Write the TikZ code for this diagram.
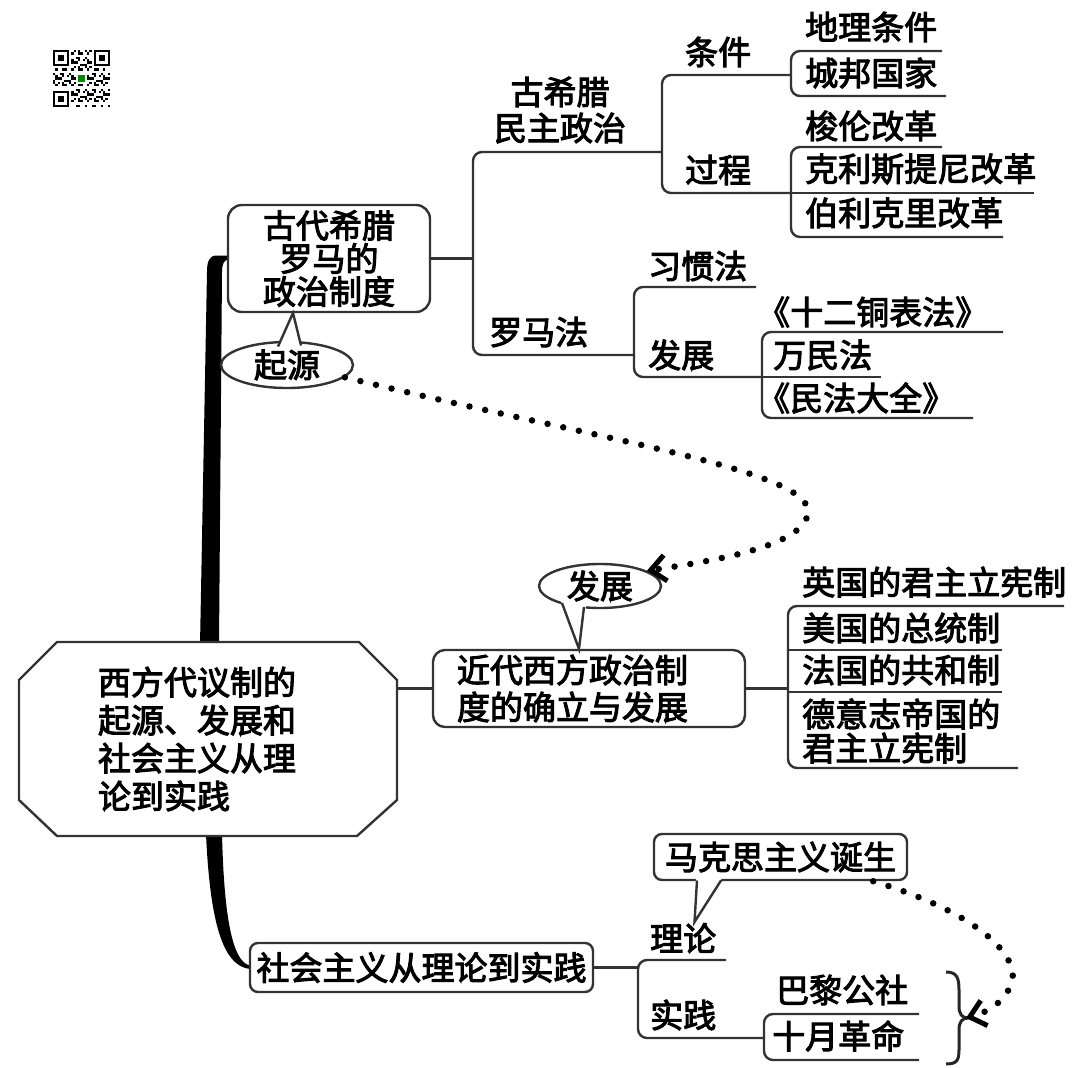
\documentclass[tikz,border=0pt]{standalone}
\usepackage{fontspec}
\newfontfamily\cjk[FakeBold=3]{Noto Sans CJK SC}
\usetikzlibrary{arrows.meta,shapes.geometric}
\newcommand\myfs{\fontsize{33}{36}\selectfont}
\begin{document}
\begin{tikzpicture}[x=1pt,y=-1pt,
  ln/.style={draw=black!80,line width=2.4pt,rounded corners=9pt},
  lbl/.style={font=\cjk\myfs,inner sep=0pt,anchor=west,text=black},
  rbox/.style={draw=black!80,line width=2.4pt,rounded corners=14pt,fill=white,inner sep=0pt,font=\cjk\myfs,text=black},
  bubble/.style={draw=black!80,line width=2.4pt,fill=white,ellipse,inner sep=0pt,font=\cjk\myfs,text=black},
  dotline/.style={draw=black,line width=6.5pt,line cap=round,dash pattern=on 0pt off 16pt},
  tipA/.style={-{Straight Barb[length=15pt,width=26pt,line width=5pt]}},
  tail/.style={draw=black!80,line width=2.4pt},
]
\useasboundingbox (0,0) rectangle (1080,1068);
\fill[white] (0,0) rectangle (1080,1068);

% ---- QR code ----
\begin{scope}[shift={(53,50)},x=2.28pt,y=-2.28pt]
  \foreach \i in {0,...,24}{\foreach \j in {0,...,24}{
    \pgfmathtruncatemacro\qv{mod(\i*\i*7+\j*\j*3+\i*\j*5+\i*11+\j*17,7)}
    \ifnum\qv<3 \fill[black] (\i,\j) rectangle ++(1,1);\fi
  }}
  \foreach \a/\b/\wa/\wb in {0/0/0/0,18/0/17/0,0/18/0/17}{
    \fill[white] (\wa,\wb) rectangle ++(8,8);
    \fill[black] (\a,\b) rectangle ++(7,7);
    \fill[white] (\a+1,\b+1) rectangle ++(5,5);
    \fill[black] (\a+2,\b+2) rectangle ++(3,3);
  }
  \fill[white] (10.3,10.3) rectangle (14.7,14.7);
  \fill[green!55!black] (10.8,10.8) rectangle (14.2,14.2);
\end{scope}

% ---- thick spine ----
\fill[black] (229,255.5) -- (216,255.5) .. controls (209,256) and (207,262) .. (207,272)
  -- (200,645) -- (219,645) -- (222,272) .. controls (222,264) and (224,259.5) .. (229,259.5) -- cycle;
\fill[black] (206,834) .. controls (210,920) and (222,966) .. (250,969)
  -- (250,965.5) .. controls (232,962) and (224,915) .. (222,834) -- cycle;

% ---- root octagon ----
\draw[draw=black!80,line width=2.4pt,fill=white] (57,642) -- (359,642) -- (397,680) -- (397,800)
  -- (357,836) -- (57,836) -- (19,800) -- (19,680) -- cycle;
\node[inner sep=0pt,minimum width=378pt,minimum height=194pt,text width=220pt,align=left,
  font={\cjk\fontsize{33}{38}\selectfont}] (root) at (208,739)
  {西方代议制的\\起源、发展和\\社会主义从理\\论到实践};

% ---- ancient Greece & Rome ----
\node[rbox,minimum width=202pt,minimum height=107pt,align=center,
  font={\cjk\fontsize{33}{33}\selectfont}] (anc) at (329,258.5) {古代希腊\\罗马的\\政治制度};
\draw[ln] (anc.east) -- ++(43,0);
\draw[ln] (662,152) -- (473,152) -- (473,355) -- (634,355);
\node[lbl,anchor=center,align=center,font={\cjk\fontsize{33}{36}\selectfont}] (gx) at (560,110) {古希腊\\民主政治};
\draw[ln] (791,75) -- (662,75) -- (662,193) -- (791,193);
\node[lbl] (tj) at (685,52) {条件};
\node[lbl] (gc) at (685,170) {过程};
\draw[ln] (942,51) -- (791,51) -- (791,96) -- (946,96);
\node[lbl] (dl) at (805,27) {地理条件};
\node[lbl] (cb) at (805,73) {城邦国家};
\draw[ln] (942,147) -- (791,147) -- (791,237) -- (1003,237);
\draw[ln] (791,193) -- (1034,193);
\node[lbl] (sl) at (805,126) {梭伦改革};
\node[lbl] (kl) at (805,169) {克利斯提尼改革};
\node[lbl] (bk) at (805,213) {伯利克里改革};

\node[lbl] (lmf) at (489,332) {罗马法};
\draw[ln] (756,287) -- (634,287) -- (634,377) -- (762,377);
\node[lbl] (xg) at (648,266) {习惯法};
\node[lbl] (fz1) at (648,355) {发展};
\draw[ln] (1003,332) -- (762,332) -- (762,418) -- (973,418);
\draw[ln] (762,377) -- (881,377);
\node[lbl] (se) at (757,312) {《十二铜表法》};
\node[lbl] (wm) at (773,355) {万民法};
\node[lbl] (mf) at (757,398) {《民法大全》};

% origin bubble
\node[bubble,minimum width=132pt,minimum height=46pt] (qy) at (287,365) {起源};
\fill[white] (278,346) -- (293,313) -- (301,346) -- cycle;
\draw[tail] (278,346.5) -- (293,313) -- (301,345.5);

% ---- modern ----
\node[rbox,rounded corners=12pt,minimum width=312pt,minimum height=77pt,text width=264pt,align=left,
  font={\cjk\fontsize{33}{37}\selectfont}] (md) at (589,688.5) {近代西方政治制\\度的确立与发展};
\draw[ln] (root.east |- md.west) -- (md.west);
\draw[ln] (md.east) -- ++(43,0);
\draw[ln] (1064,606) -- (788,606) -- (788,768) -- (1018,768);
\draw[ln] (788,650) -- (1002,650);
\draw[ln] (788,692) -- (1002,692);
\node[lbl] (yg) at (802,582) {英国的君主立宪制};
\node[lbl] (mg) at (802,628) {美国的总统制};
\node[lbl] (fg) at (802,670) {法国的共和制};
\node[lbl,align=left,font={\cjk\fontsize{33}{34}\selectfont}] (dg) at (802,731) {德意志帝国的\\君主立宪制};

% development bubble
\node[bubble,minimum width=122pt,minimum height=44pt] (fz) at (600,586) {发展};
\fill[white] (561,601) -- (586,605) -- (581,649) -- (578,649) -- cycle;
\draw[tail] (562,603) -- (579,649) -- (584,607);

% dotted arrow origin -> development
\draw[dotline,tipA] (qy.-12) .. controls (600,440) and (810,470) .. (808,512)
  .. controls (806,545) and (720,560) .. (fz.18);

% ---- socialism ----
\node[rbox,rounded corners=8pt,minimum width=343pt,minimum height=49pt] (sh) at (421.5,967.5) {社会主义从理论到实践};
\draw[ln] (sh.east) -- ++(45,0);
\draw[ln] (726,960) -- (638,960) -- (638,1038) -- (764,1038);
\node[lbl] (ll) at (650,938) {理论};
\node[lbl] (sj) at (650,1015) {实践};
\draw[ln] (919,1014) -- (764,1014) -- (764,1060) -- (919,1060);
\node[lbl] (bl) at (776,990) {巴黎公社};
\node[lbl] (sy) at (772,1036) {十月革命};

\node[rbox,rounded corners=8pt,minimum width=253pt,minimum height=46pt] (mks) at (780.5,857) {马克思主义诞生};
\fill[white] (696,878) -- (694.5,921) -- (722,878) -- cycle;
\draw[tail] (697,880.5) -- (694.5,922) -- (721,880.5);

% brace
\draw[line width=3pt,draw=black!85] (946,972) .. controls (957,972) and (959,978) .. (959,990) -- (959,1006)
  .. controls (959,1014) and (962,1018) .. (968,1018) .. controls (962,1018) and (959,1022) .. (959,1030)
  -- (959,1050) .. controls (959,1060) and (957,1064) .. (946,1064);
\coordinate (bc) at (966,1018);

\draw[dotline,tipA] ([xshift=-35pt]mks.south east) .. controls (985,915) and (1022,960) .. (1011,985)
  .. controls (1003,1003) and (988,1012) .. (bc);
\end{tikzpicture}
\end{document}
